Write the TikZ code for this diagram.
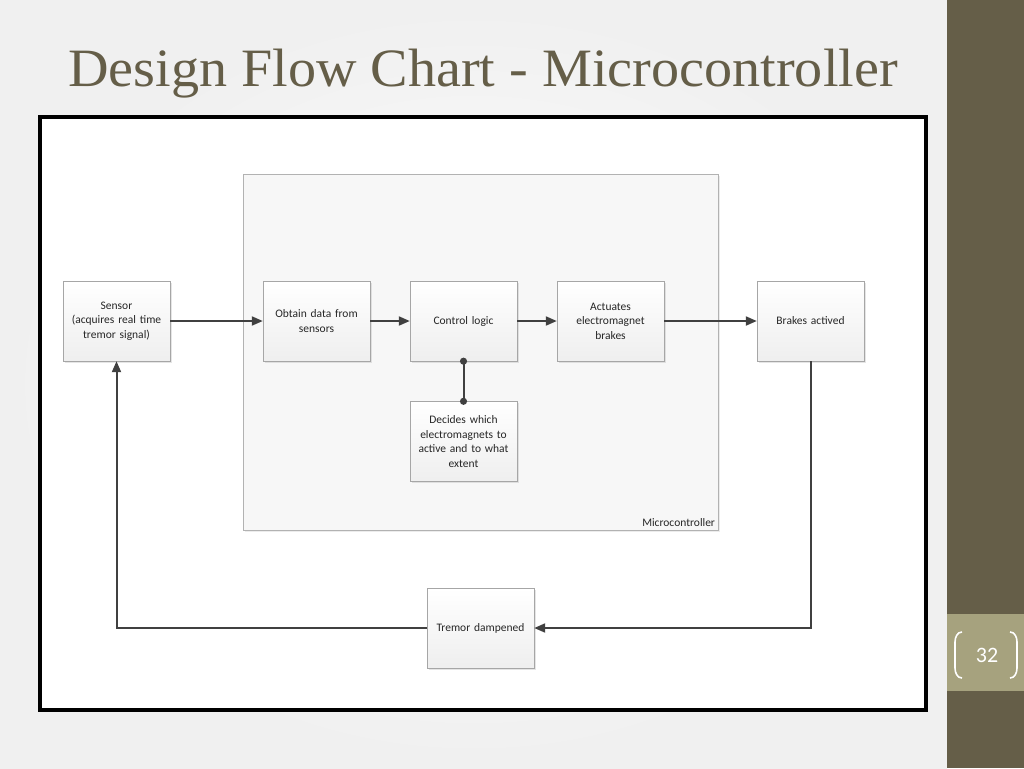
\documentclass[tikz,border=0pt]{standalone}
\usepackage{fontspec}
\setmainfont{Carlito}
\newfontfamily\titelfont[FakeStretch=1.04]{Liberation Serif}
\usetikzlibrary{arrows.meta,shadows,positioning}

\definecolor{olijf}{RGB}{101,94,72}
\definecolor{olijflicht}{RGB}{166,162,126}
\definecolor{lijnkleur}{RGB}{64,64,64}

\tikzset{
	blok/.style={draw=gray!70, top color=white, bottom color=gray!13, minimum width=107pt, minimum height=80pt,
		text width=100pt, align=center, text=black!85, font=\fontsize{11.5}{14.5}\selectfont,
		drop shadow={opacity=0.2, shadow xshift=1.5pt, shadow yshift=-1.5pt}},
	pijl/.style={draw=lijnkleur, line width=2pt, -{Triangle[length=11pt,width=9pt]}},
	bolletjes/.style={draw=lijnkleur, line width=2pt, {Circle[length=7pt]}-{Circle[length=7pt]}, shorten <=-3.5pt, shorten >=-3.5pt},
	haakje/.style={draw=white, line width=1.6pt},
}

\begin{document}
\begin{tikzpicture}[x=1pt, y=-1pt]

				\useasboundingbox (0,0) rectangle (1024,768);

				% achtergrond en zijbalk
				\shade[inner color=white, outer color=gray!12] (0,0) rectangle (947,768);
				\fill[olijf] (947,0) rectangle (1024,768);
				\fill[olijflicht] (947,614) rectangle (1024,691);

				\node[text=white, font=\fontsize{22}{22}\selectfont] (paginanummer) at (987,655) {32};
				\draw[haakje] (962,632) to[out=180,in=90] (955,642) -- (955,668) to[out=-90,in=180] (962,678);
				\draw[haakje] (1010,632) to[out=0,in=90] (1017,642) -- (1017,668) to[out=-90,in=0] (1010,678);

				\node[anchor=base, text=olijf, font=\titelfont\fontsize{54}{54}\selectfont] (titel) at (483,86) {Design Flow Chart - Microcontroller};

				% kader en microcontroller
				\node[draw=black, line width=4pt, fill=white, minimum width=886pt, minimum height=593pt, inner sep=0pt,
					drop shadow={opacity=0.25, shadow xshift=2pt, shadow yshift=-2pt}] (kader) at (483,413.5) {};
				\node[draw=gray!60, fill=gray!6, minimum width=475pt, minimum height=356pt, inner sep=0pt,
					drop shadow={opacity=0.15, shadow xshift=1.5pt, shadow yshift=-1.5pt}] (microcontroller) at (480.5,352) {};
				\node[anchor=south east, inner sep=3pt, text=black!85, font=\fontsize{11.5}{12}\selectfont] (mclabel) at (microcontroller.south east) {Microcontroller};

				% blokken
				\node[blok] (sensor) at (116.5,321) {Sensor\\(acquires real time\\tremor signal)};
				\node[blok] (obtaindata) at (316.5,321) {Obtain data from\\sensors};
				\node[blok] (controllogic) at (463.5,321) {Control logic};
				\node[blok] (actuates) at (610.5,321) {Actuates\\electromagnet\\brakes};
				\node[blok] (brakes) at (810.5,321) {Brakes actived};
				\node[blok] (decides) at (463.5,441.5) {Decides which\\electromagnets to\\active and to what\\extent};
				\node[blok] (tremor) at (480.5,628) {Tremor dampened};

				% verbindingen
				\draw[pijl] (sensor) -- (obtaindata);
				\draw[pijl] (obtaindata) -- (controllogic);
				\draw[pijl] (controllogic) -- (actuates);
				\draw[pijl] (actuates) -- (brakes);
				\draw[bolletjes] (controllogic.south) -- (decides.north);
				\draw[pijl] (brakes.south) |- (tremor.east);
				\draw[pijl] (tremor.west) -| (sensor.south);

			\end{tikzpicture}
\end{document}
